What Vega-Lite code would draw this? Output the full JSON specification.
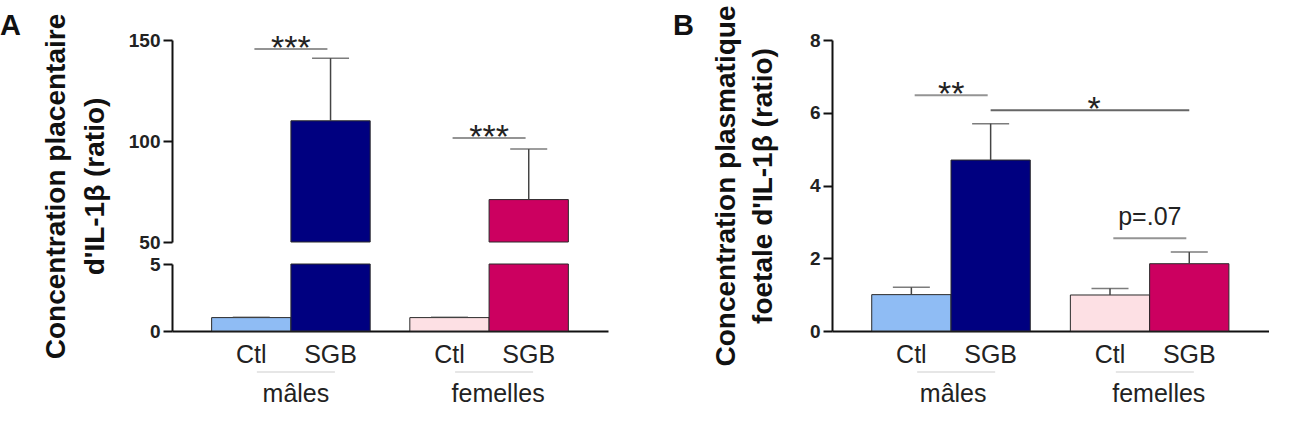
{
  "$schema": "https://vega.github.io/schema/vega-lite/v6.json",
  "background": "white",
  "padding": {"left": 0, "top": 5, "right": 0, "bottom": 0},
  "config": {
    "font": "Liberation Sans",
    "view": {"stroke": null},
    "axis": {
      "grid": false,
      "domainColor": "#111",
      "domainWidth": 2,
      "tickColor": "#111",
      "tickWidth": 2,
      "tickSize": 9,
      "labelFont": "Liberation Sans",
      "labelFontSize": 19,
      "labelFontWeight": "bold",
      "labelColor": "#222",
      "labelPadding": 3,
      "labelFlush": false,
      "titleFont": "Liberation Sans",
      "titleFontSize": 28,
      "titleFontWeight": "bold",
      "titleColor": "#111"
    },
    "title": {"font": "Liberation Sans", "fontSize": 29, "fontWeight": "bold", "color": "#111"}
  },
  "datasets": {
    "placenta": [
      {"sexe": "mâles", "groupe": "Ctl", "lot": "Ctl mâles", "moyenne": 1, "haut": 1.04},
      {"sexe": "mâles", "groupe": "SGB", "lot": "SGB mâles", "moyenne": 110, "haut": 141},
      {"sexe": "femelles", "groupe": "Ctl", "lot": "Ctl femelles", "moyenne": 1, "haut": 1.04},
      {"sexe": "femelles", "groupe": "SGB", "lot": "SGB femelles", "moyenne": 71, "haut": 96}
    ],
    "signif_placenta": [
      {"sexe": "mâles", "niveau": 145.5, "texte": "***"},
      {"sexe": "femelles", "niveau": 101.5, "texte": "***"}
    ],
    "plasma": [
      {"sexe": "mâles", "groupe": "Ctl", "lot": "Ctl mâles", "moyenne": 1.0, "haut": 1.2},
      {"sexe": "mâles", "groupe": "SGB", "lot": "SGB mâles", "moyenne": 4.7, "haut": 5.7},
      {"sexe": "femelles", "groupe": "Ctl", "lot": "Ctl femelles", "moyenne": 0.99, "haut": 1.17},
      {"sexe": "femelles", "groupe": "SGB", "lot": "SGB femelles", "moyenne": 1.85, "haut": 2.17}
    ],
    "signif_plasma": [
      {"sexe": "mâles", "niveau": 6.48, "texte": "**"},
      {"sexe": "femelles", "niveau": 2.55, "texte": "p=.07"}
    ],
    "signif_sexes": [
      {"sexe": "mâles", "groupe": "SGB", "niveau": 6.07, "texte": "*"},
      {"sexe": "femelles", "groupe": "SGB", "niveau": 6.07, "texte": "*"}
    ]
  },
  "hconcat": [
    {
      "width": 436,
      "height": 291,
      "title": {"text": "A", "anchor": "start", "frame": "group", "dx": -172, "dy": 51, "offset": 0, "baseline": "alphabetic"},
      "layer": [
        {
          "layer": [
            {
              "data": {"name": "placenta"},
              "transform": [{"filter": "datum.moyenne > 50"}],
              "mark": {"type": "bar", "stroke": "#2a2a2a", "strokeWidth": 1},
              "encoding": {
                "x": {"field": "sexe", "type": "nominal", "sort": ["mâles", "femelles"], "scale": {"domain": ["mâles", "femelles"], "paddingInner": 0.2, "paddingOuter": 0.2}},
                "xOffset": {"field": "groupe", "type": "nominal", "scale": {"domain": ["Ctl", "SGB"], "paddingInner": 0, "paddingOuter": 0}},
                "y": {
                  "field": "moyenne", "type": "quantitative",
                  "scale": {"domain": [50, 150], "range": [202, 0], "nice": false, "zero": false, "clamp": true},
                  "axis": {
                    "orient": "left",
                    "values": [50, 100, 150],
                    "format": "d",
                    "title": ["Concentration placentaire", "d'IL-1β (ratio)"],
                    "titleX": -116, "titleY": 146, "titleBaseline": "middle", "titleLineHeight": 39
                  }
                },
                "y2": {"datum": 50},
                "color": {"field": "lot", "type": "nominal", "scale": {"domain": ["Ctl mâles", "SGB mâles", "Ctl femelles", "SGB femelles"], "range": ["#8fbcf4", "#000080", "#fde0e4", "#cc0060"]}, "legend": null}
              }
            },
            {
              "data": {"name": "placenta"},
              "transform": [{"filter": "datum.moyenne > 50"}],
              "mark": {"type": "rule", "color": "#444", "strokeWidth": 1.5},
              "encoding": {
                "x": {"field": "sexe", "type": "nominal"},
                "xOffset": {"field": "groupe", "type": "nominal"},
                "y": {"field": "moyenne", "type": "quantitative"},
                "y2": {"field": "haut"}
              }
            },
            {
              "data": {"name": "placenta"},
              "transform": [{"filter": "datum.moyenne > 50"}],
              "mark": {"type": "tick", "orient": "horizontal", "color": "#444", "thickness": 1.5, "size": 37},
              "encoding": {
                "x": {"field": "sexe", "type": "nominal"},
                "xOffset": {"field": "groupe", "type": "nominal"},
                "y": {"field": "haut", "type": "quantitative"}
              }
            },
            {
              "data": {"name": "signif_placenta"},
              "mark": {"type": "tick", "orient": "horizontal", "color": "#666", "thickness": 2, "size": 73},
              "encoding": {
                "x": {"field": "sexe", "type": "nominal"},
                "y": {"field": "niveau", "type": "quantitative"}
              }
            },
            {
              "data": {"name": "signif_placenta"},
              "mark": {"type": "text", "fontSize": 34, "baseline": "alphabetic", "dy": 10, "color": "#222"},
              "encoding": {
                "x": {"field": "sexe", "type": "nominal"},
                "y": {"field": "niveau", "type": "quantitative"},
                "text": {"field": "texte"}
              }
            }
          ]
        },
        {
          "layer": [
            {
              "data": {"name": "placenta"},
              "mark": {"type": "bar", "stroke": "#2a2a2a", "strokeWidth": 1},
              "encoding": {
                "x": {
                  "field": "sexe", "type": "nominal", "sort": ["mâles", "femelles"],
                  "axis": {
                    "title": null, "ticks": false, "tickSize": 0, "labelAngle": 0, "labelAlign": "center",
                    "labelFontSize": 25, "labelFontWeight": "normal", "labelColor": "#222",
                    "labelBaseline": "alphabetic", "labelPadding": 70,
                    "labelOffset": {"condition": {"test": "datum.value == 'femelles'", "value": 9}, "value": 5}
                  }
                },
                "xOffset": {"field": "groupe", "type": "nominal"},
                "y": {
                  "field": "moyenne", "type": "quantitative",
                  "scale": {"domain": [0, 5], "range": [291, 224], "nice": false, "clamp": true},
                  "axis": {"orient": "left", "values": [0, 5], "format": "d", "title": null}
                },
                "color": {"field": "lot", "type": "nominal", "legend": null}
              }
            },
            {
              "data": {"name": "placenta"},
              "transform": [{"filter": "datum.moyenne < 5"}],
              "mark": {"type": "tick", "orient": "horizontal", "color": "#444", "thickness": 1.2, "size": 37},
              "encoding": {
                "x": {"field": "sexe", "type": "nominal"},
                "xOffset": {"field": "groupe", "type": "nominal"},
                "y": {"field": "haut", "type": "quantitative"}
              }
            },
            {
              "data": {"name": "placenta"},
              "mark": {"type": "text", "fontSize": 25, "baseline": "alphabetic", "dy": 32, "color": "#222"},
              "encoding": {
                "x": {"field": "sexe", "type": "nominal"},
                "xOffset": {"field": "groupe", "type": "nominal"},
                "y": {"datum": 0},
                "text": {"field": "groupe"}
              }
            },
            {
              "data": {"name": "signif_placenta"},
              "mark": {"type": "tick", "orient": "horizontal", "color": "#b8b8b8", "thickness": 1, "size": 78, "yOffset": 41, "xOffset": 5},
              "encoding": {
                "x": {"field": "sexe", "type": "nominal"},
                "y": {"datum": 0}
              }
            }
          ]
        }
      ],
      "resolve": {"scale": {"y": "independent"}, "axis": {"y": "independent"}}
    },
    {
      "width": 437,
      "height": 291,
      "title": {"text": "B", "anchor": "start", "frame": "group", "dx": -159, "dy": 59, "offset": 0, "baseline": "alphabetic"},
      "layer": [
        {
          "data": {"name": "plasma"},
          "mark": {"type": "bar", "stroke": "#2a2a2a", "strokeWidth": 1},
          "encoding": {
            "x": {
              "field": "sexe", "type": "nominal", "sort": ["mâles", "femelles"],
              "scale": {"domain": ["mâles", "femelles"], "paddingInner": 0.2, "paddingOuter": 0.2},
              "axis": {
                "title": null, "ticks": false, "tickSize": 0, "labelAngle": 0, "labelAlign": "center",
                "labelFontSize": 25, "labelFontWeight": "normal", "labelColor": "#222",
                "labelBaseline": "alphabetic", "labelPadding": 70,
                "labelOffset": {"condition": {"test": "datum.value == 'femelles'", "value": 9}, "value": 2}
              }
            },
            "xOffset": {"field": "groupe", "type": "nominal", "scale": {"domain": ["Ctl", "SGB"], "paddingInner": 0, "paddingOuter": 0}},
            "y": {
              "field": "moyenne", "type": "quantitative",
              "scale": {"domain": [0, 8], "nice": false},
              "axis": {
                "values": [0, 2, 4, 6, 8],
                "title": ["Concentration plasmatique", "foetale d'IL-1β  (ratio)"],
                "titleX": -106, "titleBaseline": "middle", "titleLineHeight": 37
              }
            },
            "color": {"field": "lot", "type": "nominal", "scale": {"domain": ["Ctl mâles", "SGB mâles", "Ctl femelles", "SGB femelles"], "range": ["#8fbcf4", "#000080", "#fde0e4", "#cc0060"]}, "legend": null}
          }
        },
        {
          "data": {"name": "plasma"},
          "mark": {"type": "rule", "color": "#444", "strokeWidth": 1.5},
          "encoding": {
            "x": {"field": "sexe", "type": "nominal"},
            "xOffset": {"field": "groupe", "type": "nominal"},
            "y": {"field": "moyenne", "type": "quantitative"},
            "y2": {"field": "haut"}
          }
        },
        {
          "data": {"name": "plasma"},
          "mark": {"type": "tick", "orient": "horizontal", "color": "#444", "thickness": 1.5, "size": 37},
          "encoding": {
            "x": {"field": "sexe", "type": "nominal"},
            "xOffset": {"field": "groupe", "type": "nominal"},
            "y": {"field": "haut", "type": "quantitative"}
          }
        },
        {
          "data": {"name": "signif_plasma"},
          "mark": {"type": "tick", "orient": "horizontal", "color": "#666", "thickness": 2, "size": 73},
          "encoding": {
            "x": {"field": "sexe", "type": "nominal"},
            "y": {"field": "niveau", "type": "quantitative"}
          }
        },
        {
          "data": {"name": "signif_plasma"},
          "transform": [{"filter": "datum.texte == '**'"}],
          "mark": {"type": "text", "fontSize": 34, "baseline": "alphabetic", "dy": 10, "color": "#222"},
          "encoding": {
            "x": {"field": "sexe", "type": "nominal"},
            "y": {"field": "niveau", "type": "quantitative"},
            "text": {"field": "texte"}
          }
        },
        {
          "data": {"name": "signif_plasma"},
          "transform": [{"filter": "datum.texte == 'p=.07'"}],
          "mark": {"type": "text", "fontSize": 25, "baseline": "alphabetic", "dy": -13, "color": "#222"},
          "encoding": {
            "x": {"field": "sexe", "type": "nominal"},
            "y": {"field": "niveau", "type": "quantitative"},
            "text": {"field": "texte"}
          }
        },
        {
          "data": {"name": "signif_sexes"},
          "mark": {"type": "line", "color": "#666", "strokeWidth": 2},
          "encoding": {
            "x": {"field": "sexe", "type": "nominal"},
            "xOffset": {"field": "groupe", "type": "nominal"},
            "y": {"field": "niveau", "type": "quantitative"}
          }
        },
        {
          "data": {"name": "signif_sexes"},
          "transform": [{"filter": "datum.sexe == 'femelles'"}],
          "mark": {"type": "text", "fontSize": 34, "baseline": "alphabetic", "dy": 10, "color": "#222"},
          "encoding": {
            "x": {"field": "sexe", "type": "nominal", "bandPosition": 0.15},
            "y": {"field": "niveau", "type": "quantitative"},
            "text": {"field": "texte"}
          }
        },
        {
          "data": {"name": "plasma"},
          "mark": {"type": "text", "fontSize": 25, "baseline": "alphabetic", "dy": 32, "color": "#222"},
          "encoding": {
            "x": {"field": "sexe", "type": "nominal"},
            "xOffset": {"field": "groupe", "type": "nominal"},
            "y": {"datum": 0},
            "text": {"field": "groupe"}
          }
        },
        {
          "data": {"name": "signif_plasma"},
          "mark": {"type": "tick", "orient": "horizontal", "color": "#b8b8b8", "thickness": 1, "size": 78, "yOffset": 41, "xOffset": 5},
          "encoding": {
            "x": {"field": "sexe", "type": "nominal"},
            "y": {"datum": 0}
          }
        }
      ]
    }
  ],
  "spacing": 224,
  "bounds": "flush"
}
